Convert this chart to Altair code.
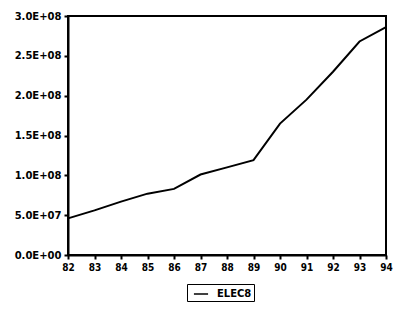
import altair as alt
import pandas as pd

years = list(range(1982, 1995))
elec8 = [46e6, 56e6, 67e6, 77e6, 83e6, 101e6, 110e6, 119e6, 165e6, 195e6, 230e6, 268e6, 286e6]
series_name = "ELEC8"

y_ticks = [0, 5e7, 1e8, 1.5e8, 2e8, 2.5e8, 3e8]
y_labels = ["0.0E+00", "5.0E+07", "1.0E+08", "1.5E+08", "2.0E+08", "2.5E+08", "3.0E+08"]

df = pd.DataFrame({"year": years, "value": elec8, "series": [series_name] * len(years)})

expr = "''"
for v, lab in zip(y_ticks, y_labels):
    expr = f"datum.value == {v} ? '{lab}' : ({expr})"

font = "DejaVu Sans"

chart = alt.Chart(df).mark_line(strokeWidth=2).encode(
    x=alt.X("year:Q", scale=alt.Scale(domain=[1982, 1994], nice=False, zero=False),
            axis=alt.Axis(values=years, labelExpr="slice(toString(datum.value), 2)", title=None,
                          grid=False, domainColor="black", domainWidth=2, tickColor="black",
                          tickWidth=2, tickSize=4, labelFont="DejaVu Sans Condensed",
                          labelFontWeight="bold", labelFontSize=10, labelColor="black",
                          labelPadding=3, labelFlush=False)),
    y=alt.Y("value:Q", scale=alt.Scale(domain=[0, 3e8], nice=False),
            axis=alt.Axis(values=y_ticks, labelExpr=expr, title=None, grid=False,
                          domainColor="black", domainWidth=2, tickColor="black", tickWidth=2,
                          tickSize=4, labelFont=font, labelFontWeight="bold", labelFontSize=10,
                          labelColor="black", labelPadding=3)),
    color=alt.Color("series:N", scale=alt.Scale(range=["black"]),
                    legend=alt.Legend(title=None, orient="none", legendX=119, legendY=268,
                                      strokeColor="black", padding=2, symbolType="stroke",
                                      symbolSize=200, symbolStrokeWidth=1.5, symbolOffset=4,
                                      labelOffset=8, labelFont=font,
                                      labelFontWeight="bold", labelFontSize=10, labelColor="black")),
).properties(
    width=318, height=239,
    background="white",
    autosize=alt.AutoSizeParams(type="none"),
    padding={"left": 60, "top": 8, "right": 10, "bottom": 48},
).configure_view(stroke="black", strokeWidth=2)

chart.save("out.html", embed_options={"renderer": "svg", "actions": False})
